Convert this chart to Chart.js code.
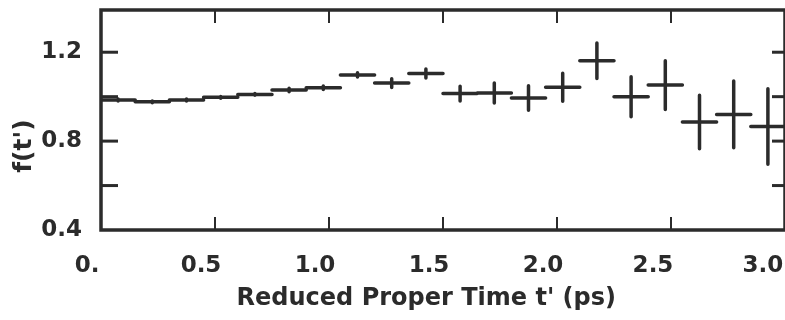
<!DOCTYPE html>
<html>
<head>
<meta charset="utf-8">
<script src="https://cdn.jsdelivr.net/npm/chart.js@4.4.1/dist/chart.umd.min.js"></script>
<style>
html, body { margin: 0; padding: 0; background: #fff; }
</style>
</head>
<body>
<canvas id="decayChart" width="785" height="320"></canvas>
<script>
// reduced proper time bins (ps), 0.15 ps wide
const binCenters = [0.075, 0.225, 0.375, 0.525, 0.675, 0.825, 0.975, 1.125, 1.275, 1.425,
                    1.575, 1.725, 1.875, 2.025, 2.175, 2.325, 2.475, 2.625, 2.775, 2.925];
const binHalfWidth = 0.075;

// f(t') and its error
const fValues = [0.985, 0.977, 0.985, 0.997, 1.01, 1.03, 1.04, 1.098, 1.061, 1.104,
                 1.014, 1.017, 0.994, 1.042, 1.162, 1.0, 1.052, 0.886, 0.92, 0.866];
const fErrors = [0.004, 0.004, 0.004, 0.004, 0.004, 0.008, 0.008, 0.01, 0.02, 0.02,
                 0.033, 0.045, 0.055, 0.063, 0.08, 0.09, 0.11, 0.12, 0.15, 0.17];

const xTicks = [0, 0.5, 1.0, 1.5, 2.0, 2.5, 3.0];
const xTickLabels = ['0.', '0.5', '1.0', '1.5', '2.0', '2.5 ', '3.0  '];
const yTicks = [0.4, 0.6, 0.8, 1.0, 1.2];
const yTickLabels = ['0.4', '', '0.8', '', '1.2'];

const ink = '#2b2b2b';

// each bin becomes a cross: horizontal bin width + vertical error bar
const crossPoints = [];
binCenters.forEach((x, i) => {
  crossPoints.push({x: x - binHalfWidth, y: fValues[i]});
  crossPoints.push({x: x + binHalfWidth, y: fValues[i]});
  crossPoints.push({x: x, y: null});
  crossPoints.push({x: x, y: fValues[i] - fErrors[i]});
  crossPoints.push({x: x, y: fValues[i] + fErrors[i]});
  crossPoints.push({x: x, y: null});
});

// box frame with inward ticks on all four sides
const frameTicks = {
  id: 'frameTicks',
  afterDatasetsDraw(chart) {
    const {ctx, chartArea: a, scales} = chart;
    const line = (x1, y1, x2, y2) => { ctx.beginPath(); ctx.moveTo(x1, y1); ctx.lineTo(x2, y2); ctx.stroke(); };
    ctx.save();
    ctx.strokeStyle = ink;
    ctx.lineWidth = 2;
    xTicks.forEach(v => {
      if (v <= 0 || v >= 3) return;
      const px = scales.x.getPixelForValue(v);
      line(px, a.top, px, a.top + 13);
      line(px, a.bottom, px, a.bottom - 13);
    });
    ctx.lineWidth = 3;
    yTicks.forEach(v => {
      if (v <= 0.4) return;
      const py = scales.y.getPixelForValue(v);
      line(a.left, py, a.left + 17, py);
      line(a.right, py, a.right - 13, py);
    });
    ctx.lineWidth = 3.5;
    ctx.strokeRect(a.left, a.top, a.right - a.left, a.bottom - a.top);
    ctx.restore();
  }
};

Chart.defaults.font.family = 'DejaVu Sans';
Chart.defaults.color = ink;

new Chart(document.getElementById('decayChart'), {
  type: 'scatter',
  data: {
    datasets: [{
      data: crossPoints,
      showLine: true,
      spanGaps: false,
      borderColor: ink,
      borderWidth: 3.5,
      borderCapStyle: 'round',
      pointRadius: 0
    }]
  },
  options: {
    responsive: false,
    animation: false,
    layout: { padding: { left: 0, right: 0, top: 10, bottom: 0 } },
    plugins: { legend: { display: false }, tooltip: { enabled: false } },
    scales: {
      x: {
        type: 'linear',
        min: 0,
        max: 3.0,
        grid: { display: false },
        border: { display: false },
        afterBuildTicks: s => { s.ticks = xTicks.map(v => ({value: v})); },
        afterFit: s => { s.height = 90; s.paddingLeft = 0; s.paddingRight = 0; },
        ticks: {
          autoSkip: false,
          maxRotation: 0,
          padding: 14,
          labelOffset: -14,
          font: { size: 23, weight: 'bold' },
          callback: (v, i) => xTickLabels[i]
        },
        title: {
          display: true,
          text: "Reduced Proper Time t' (ps)    ",
          font: { size: 24, weight: 'bold', lineHeight: 1.2 },
          padding: { top: 0, bottom: 7 }
        }
      },
      y: {
        min: 0.4,
        max: 1.39,
        grid: { display: false },
        border: { display: false },
        afterBuildTicks: s => { s.ticks = yTicks.map(v => ({value: v})); },
        afterFit: s => { s.width = 101; s.paddingTop = 0; s.paddingBottom = 0; },
        ticks: {
          autoSkip: false,
          padding: 11,
          font: { size: 23, weight: 'bold' },
          callback: (v, i) => yTickLabels[i]
        },
        title: {
          display: true,
          text: "f(t')      ",
          font: { size: 25, weight: 'bold', lineHeight: 1.2 },
          padding: { top: 9, bottom: 0 }
        }
      }
    }
  },
  plugins: [frameTicks]
});
</script>
</body>
</html>
